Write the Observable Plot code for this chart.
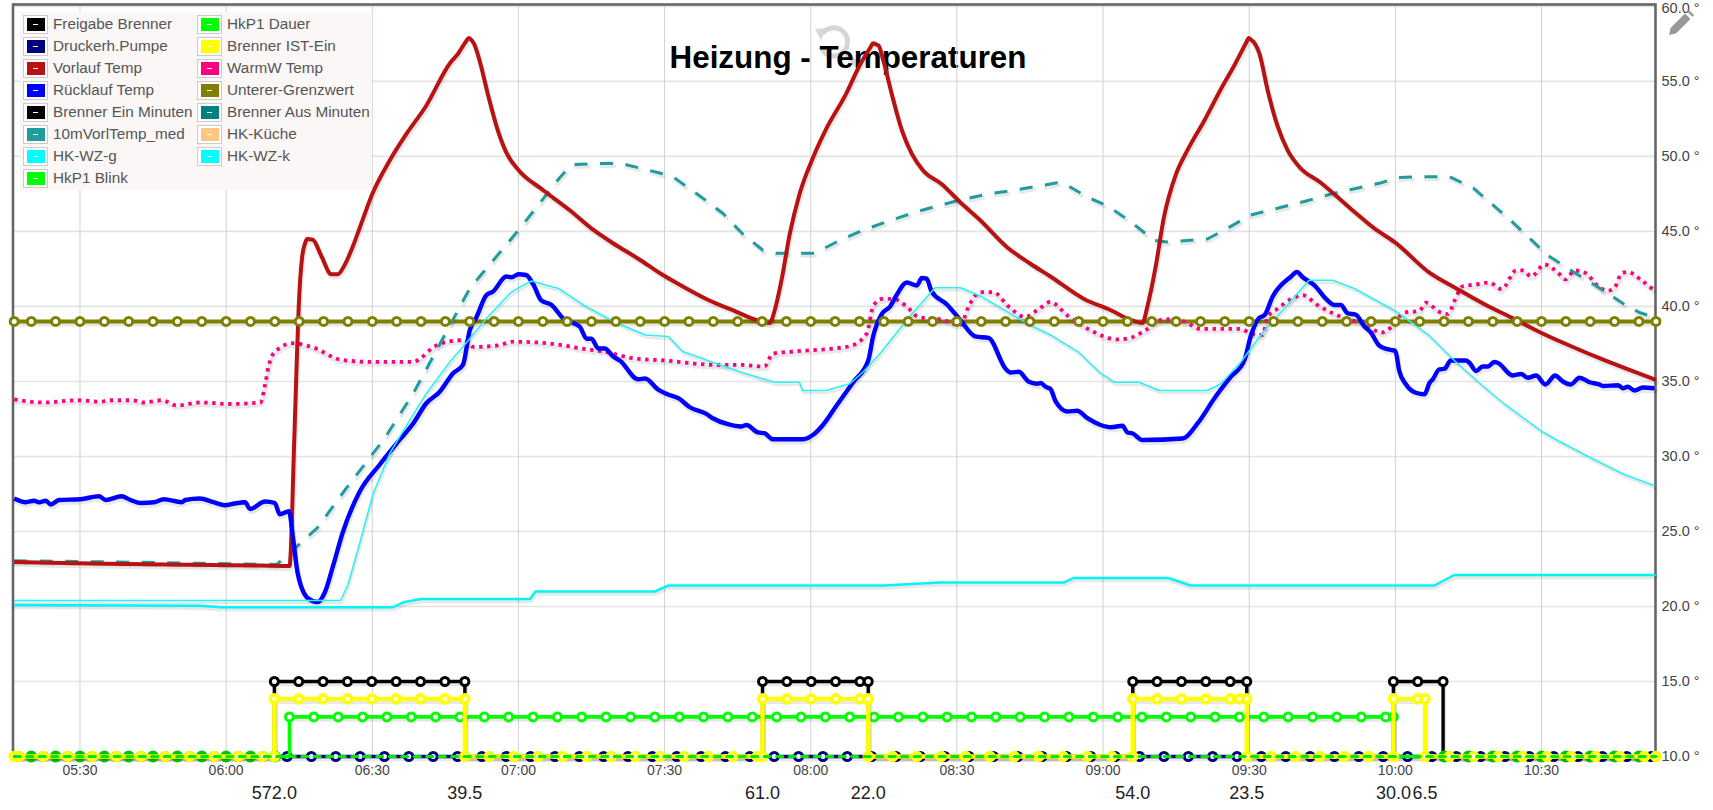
<!DOCTYPE html>
<html>
<head>
<meta charset="utf-8">
<script src="https://cdn.jsdelivr.net/npm/d3@7"></script>
<script src="https://cdn.jsdelivr.net/npm/@observablehq/plot@0.6"></script>
<style>
html,body{margin:0;padding:0;background:#fff;overflow:hidden}
#wrap{position:relative;width:1713px;height:810px;font-family:"Liberation Sans",Arial,sans-serif}
#title{position:absolute;left:0;top:38px;width:1696px;text-align:center;font-size:31.4px;font-weight:bold;color:#000;line-height:40px}
#chart{position:absolute;left:0;top:0}
#legend{position:absolute;left:20px;top:12px;width:352px;height:178px;background:#faf7f6}
.it{position:absolute;height:22px;display:flex;align-items:center;font-size:15.3px;color:#555;white-space:nowrap}
.sw{width:18px;height:13px;border:1px solid #ccc;padding:2px 2.5px;margin-right:5px;box-sizing:content-box;background:#fff;flex:none;position:relative}
.sw i{display:block;width:100%;height:100%;position:relative}
.sw i::after{content:"";position:absolute;left:6.5px;top:6px;width:5px;height:1px;background:#fff}
.icon{position:absolute}
</style>
</head>
<body>
<div id="wrap">
<svg class="icon" style="left:812px;top:22px" width="52" height="48" viewBox="0 0 52 48" fill="none">
  <path d="M10 12 A14 14 0 1 1 9 26" stroke="#d6d6d6" stroke-width="5"/>
  <path d="M3 7 L15 6 L9 18 Z" fill="#d6d6d6"/>
  <path d="M32 30 L46 44" stroke="#d6d6d6" stroke-width="6"/>
</svg>
<div id="title">Heizung - Temperaturen</div>
<div id="chart"></div>
<div id="legend"></div>
<svg class="icon" style="left:1667px;top:9px" width="28" height="28" viewBox="0 0 28 28">
  <path d="M2 26 L3.5 19 L18 4.5 L23.5 10 L9 24.5 Z" fill="#999"/>
  <path d="M20 2.5 L22 1 L27 6 L25.5 8 Z" fill="#999"/>
</svg>
</div>
<script>
// Time values are minutes since midnight; temperatures are degrees.
const xDomain = [316.25, 653.4];
const yDomain = [10, 60.13];
const timeTicks = [330, 360, 390, 420, 450, 480, 510, 540, 570, 600, 630];
const tempTicks = [10, 15, 20, 25, 30, 35, 40, 45, 50, 55];
const tempTop = [60];
const tempGrid = [10, 15, 20, 25, 30, 35, 40, 45, 50, 55, 60];

const vorlauf = [[316.5,22.96],[335.3,22.85],[367,22.73],[373,22.7],[374,31.3],[374.5,36.4],[374.9,40],[375.6,43.3],[376.3,44.3],[376.6,44.5],[377.8,44.45],[379.5,43.4],[381.6,42.15],[382.9,42.15],[384.3,42.75],[386,44],[387.7,45.5],[390,47.5],[393.6,49.75],[397,51.5],[401.1,53.4],[405.9,56.2],[407.6,56.85],[409.3,57.7],[409.8,57.9],[410.4,57.75],[410.9,57.5],[412.1,56.3],[413.8,54.05],[415.9,51.6],[417.6,50.2],[420,49.1],[425.1,47.75],[430.6,46.4],[435.4,45.1],[439.5,44.2],[445,43.1],[448.9,42.25],[452.3,41.6],[459.2,40.4],[464,39.75],[468.8,39.1],[471.6,38.9],[472.6,39.75],[474,41.75],[475.7,44.85],[477.7,47.5],[480.5,49.95],[483.2,51.85],[487.3,54.2],[490,56.05],[492.3,57.3],[492.8,57.55],[493.5,57.45],[493.9,57.4],[494.9,56.4],[496.6,54.2],[498.7,51.75],[500.7,50.2],[503.1,49.05],[506.9,48.15],[510.7,46.95],[514.8,45.75],[520.3,43.95],[525.1,42.85],[529.2,42],[536.1,40.5],[541.6,39.75],[545.7,39.1],[548.1,38.9],[549.1,40],[550.8,42.65],[552.5,45.95],[554.9,48.75],[557.3,50.4],[560.8,52.4],[564.2,54.5],[566.9,56.05],[569.4,57.6],[569.9,57.9],[570.5,57.75],[571,57.6],[572.1,56.85],[573.8,54.4],[575.8,52.05],[577.9,50.4],[580.3,49.3],[584.7,48.25],[590.9,46.5],[595.7,45.2],[600,44.25],[607,42.25],[612.8,41.15],[618.3,40.15],[624.5,39.15],[629.9,38.25],[636.8,37.25],[642.3,36.5],[647.8,35.8],[653.5,35.1]];

const ruecklauf = [[316.5,27.2],[318.9,26.95],[320.6,27.05],[321.6,26.95],[323,27.05],[324,26.8],[325.7,27.1],[330.1,27.15],[333.9,27.35],[335.3,27.1],[338.5,27.35],[340.4,27.1],[342.5,26.9],[345.2,26.95],[347.2,27.15],[350.9,26.95],[351.6,27.1],[354.6,27.2],[357.4,26.95],[359.8,26.75],[361.5,26.85],[363.9,26.95],[364.9,26.5],[368,27],[370,26.9],[371,26.15],[372.9,26.35],[373.7,24.65],[374.7,22.2],[376.8,20.55],[378.8,20.3],[380.2,20.9],[381.9,22.65],[383.9,24.9],[387.4,27.65],[391.5,29.45],[395.6,31.1],[398.4,32.2],[401.1,33.55],[403.8,34.3],[406.6,35.55],[408.6,36.1],[410,38.4],[411.4,39.3],[413.4,40.75],[414.8,41],[417.5,42],[418.6,41.95],[420,42.15],[421.6,42.1],[423,41.5],[424.7,40.4],[426.8,40.1],[429.2,39.2],[432.6,38.65],[434,37.85],[435,37.85],[436.4,37.2],[437.7,37.2],[439.5,36.65],[440.8,36.4],[444.6,35.15],[446,35.2],[448.7,34.45],[450.6,34.15],[453,33.85],[455.1,33.3],[458.5,32.85],[459.9,32.55],[463,32.15],[465.7,32],[466.8,32.1],[469.2,31.6],[470.5,31.55],[472.2,31.15],[478.4,31.15],[480.5,31.45],[482.5,32.1],[485.3,33.4],[488.7,34.95],[491.8,36.4],[492.8,38],[494.6,39.5],[496.3,40],[497.6,40.75],[499.7,41.6],[501.8,41.4],[502.8,41.9],[503.8,41.85],[504.8,41],[507.9,40.15],[510.7,39.1],[513.8,38],[516.5,37.9],[520,35.85],[521,35.6],[522.7,35.65],[524.7,35],[526.5,34.85],[527.2,34.9],[528.2,34.65],[529.2,34.5],[530.3,33.65],[532.7,33],[534.7,33.05],[536.8,32.55],[539.5,32.1],[541.6,31.95],[544,32.05],[545,31.6],[546,31.55],[548.1,31.1],[556.3,31.2],[559.4,32.2],[562.8,33.85],[566.2,35.3],[569,36.4],[570.3,38],[572.1,39.25],[573.1,39.4],[574.8,40.65],[578.6,42],[579.8,42.3],[581,41.95],[583.4,41.4],[586.1,40.4],[587.5,40.1],[588.8,40.1],[590.2,39.55],[591.9,39.45],[593.6,38.7],[595,38.25],[596.7,37.4],[599.1,37.1],[600,37.05],[600.8,35.7],[602.2,34.8],[604.2,34.25],[606,34.15],[607,34.9],[607.7,35.15],[609,35.8],[610.1,35.85],[611.4,36.4],[614.5,36.4],[615.2,36.25],[616.6,35.7],[617.9,36],[619,36],[620.3,36.3],[621,36.25],[624.1,35.4],[625.8,35.5],[627.2,35.25],[628.9,35.4],[630.8,34.8],[632.8,35.4],[634.4,35],[636,34.8],[637.8,35.25],[639.9,34.95],[641.9,34.8],[642.6,34.7],[645.7,34.75],[646.7,34.55],[647.7,34.65],[649.1,34.4],[650.8,34.6],[653.2,34.55]];

const warmW = [[316.5,33.8],[322.6,33.6],[329.5,33.75],[334.2,33.65],[335.9,33.75],[340.7,33.75],[343.1,33.6],[346.8,33.75],[349.9,33.4],[354.7,33.6],[360.8,33.5],[367,33.6],[368,34.8],[368.7,36],[369.8,36.9],[373.6,37.55],[378,37.25],[383.5,36.45],[390.3,36.3],[398.5,36.3],[399.9,36.55],[402.6,37.3],[405.4,37.65],[408.8,37.75],[410.8,37.3],[415.7,37.4],[419,37.65],[423.9,37.6],[429.3,37.4],[432.8,37.2],[437.4,37],[443.6,36.55],[450,36.4],[460.9,36.1],[466,36.1],[470.5,36],[472.2,36.85],[476.4,37],[484.6,37.2],[488,37.35],[491.5,38.2],[492.8,40],[494.6,40.5],[497,40.5],[499.7,40],[502.1,39.3],[507.2,39.1],[510.7,38.75],[512.4,40],[514.8,40.95],[517.5,40.95],[520.6,40],[524,39.3],[526.5,39.75],[529.2,40.3],[532.7,39.4],[537.5,38.4],[543,37.8],[546,37.95],[549.1,38.5],[552.5,39.15],[556.6,39],[560.1,38.5],[568.3,38.5],[570.3,38.2],[572.7,38.1],[573.8,39.3],[575.8,39.85],[578.6,40.5],[581,40.75],[584,40.1],[588.2,39.4],[590.9,39.1],[594.3,38.75],[597,38.25],[599.1,38.6],[601.8,39.6],[604.9,39.7],[606.3,40.25],[609,39.65],[610.8,39.5],[612.1,40.35],[613.8,41.35],[616.2,41.45],[619.3,41.6],[621.8,41.15],[624.8,42.4],[626.2,42.4],[627.9,42],[630.6,42.8],[633.4,42.25],[634.9,41.8],[636.8,42.4],[638.9,42.25],[642,41.25],[643.6,41.05],[645,41.25],[646.4,42.2],[647.7,42.3],[650.5,41.75],[653.2,41.05]];

const vorlMed = [[316.5,23.05],[330.1,23],[341,22.95],[370.4,22.8],[378.6,25.2],[384.7,27.9],[392.5,31.2],[398.4,34.2],[410,41.2],[420.3,45.2],[428.5,48.6],[430.9,49.45],[438.4,49.55],[441.5,49.5],[449,48.9],[451.7,48.65],[457.1,47.4],[462,46.2],[466,44.85],[470.2,43.75],[472.9,43.55],[480.8,43.55],[485.3,44.3],[490.8,45.1],[495.6,45.65],[501.1,46.25],[505.9,46.7],[510.7,47.1],[516.5,47.5],[521.7,47.75],[527.2,48.05],[530.6,48.25],[532,48.2],[536.8,47.3],[541.2,46.65],[545.7,45.65],[550.5,44.4],[553.2,44.3],[561.4,44.5],[565.5,45.2],[570.3,46.1],[575.8,46.55],[581.3,47],[586.8,47.5],[591.6,47.85],[597.1,48.25],[600.5,48.6],[604.6,48.65],[608,48.65],[611.1,48.65],[616,47.9],[623.8,45.7],[631.3,43.4],[636.8,42.25],[642.3,41.15],[647,40.15],[650.1,39.6],[652.5,39.35]];

const hkWzThin = [[316.5,20.4],[383.5,20.4],[385,21.45],[387.4,24.2],[390.2,27.55],[393.6,30.2],[395.6,31.3],[401.1,34.2],[405.9,36.3],[410,37.85],[413.4,39.2],[418.2,40.85],[420,41.25],[422.7,41.7],[428.2,41.2],[433.3,40.1],[439.5,39],[446,38.1],[450.8,38],[453.7,37],[460.6,36.2],[466.8,35.5],[472.6,34.95],[477.7,34.95],[478.3,34.4],[483.2,34.4],[488,34.85],[490.8,35.65],[494.2,36.85],[499.7,39.1],[505.5,41.25],[510.7,41.25],[514.8,40.7],[520.3,39.65],[525.1,38.75],[529.2,38.1],[535,36.95],[539.5,35.55],[542.3,34.95],[547.4,34.95],[551.5,34.4],[561.4,34.4],[564.2,34.85],[568.3,36.3],[573.1,38.4],[577.2,39.85],[582.3,41.75],[587.1,41.75],[591.6,41.2],[600,39.7],[607,38.05],[612.1,36.4],[617.6,34.8],[622.4,33.5],[629.9,31.7],[633.4,31.05],[640.2,29.9],[647,28.8],[653.2,28.05]];

const hkWzThick = [[316.5,20.1],[354.7,20.05],[358.8,19.95],[394.3,19.95],[396.6,20.3],[400,20.5],[422.4,20.5],[423.5,21],[448,21],[450.8,21.4],[495.1,21.4],[506.4,21.6],[532,21.6],[534,21.9],[553.4,21.9],[558,21.4],[608,21.4],[612.1,22.1],[653.4,22.1]];

const grenzwert = [[316.5,39],[653.5,39]];
const grenzwertDots = [316.5,320,325,330,335,340,345,350,355,360,365,370,375,380,385,390,395,400,405,410,415,420,425,430,435,440,445,450,455,460,465,470,475,480,485,490,495,500,505,510,515,520,525,530,535,540,545,550,555,560,565,570,575,580,585,590,595,600,605,610,615,620,625,630,635,640,645,650,653.5];

const pumpeLine = [[316.5,10],[653.5,10]];
const pumpeDots = [317.5,322.5,327.5,332.5,337.5,342.5,347.5,352.5,357.5,362.5,367.5,372.5,377.5,382.5,387.5,392.5,397.5,402.5,407.5,412.5,417.5,422.5,427.5,432.5,437.5,442.5,447.5,452.5,457.5,462.5,467.5,472.5,477.5,482.5,487.5,492.5,497.5,502.5,507.5,512.5,517.5,522.5,527.5,532.5,537.5,542.5,547.5,552.5,557.5,562.5,567.5,572.5,577.5,582.5,587.5,592.5,597.5,602.5,607.5,612.5,617.5,622.5,627.5,632.5,637.5,642.5,647.5,652.5];

const freigabeLine = [[316.5,10],[369.9,10],[369.9,15],[409,15],[409,10],[470.1,10],[470.1,15],[491.8,15],[491.8,10],[546.1,10],[546.1,15],[569.5,15],[569.5,10],[599.6,10],[599.6,15],[609.8,15],[609.8,10],[653.5,10]];
const freigabeDots = [369.9,374.9,379.9,384.9,389.9,394.9,399.9,404.9,409,470.1,475.1,480.1,485.1,490.1,491.8,546.1,551.1,556.1,561.1,566.1,569.5,599.6,604.6,609.8];

const dauer = [[316.5,10],[373,10],[373,12.64],[599.6,12.64],[599.6,10],[653.5,10]];
const dauerDots = [373,378,383,388,393,398,403,408,413,418,423,428,433,438,443,448,453,458,463,468,473,478,483,488,493,498,503,508,513,518,523,528,533,538,543,548,553,558,563,568,573,578,583,588,593,598,599.6];
const blinkDots = [320,325,330,335,340,345,350,355,360,365,370,610,615,620,625,630,635,640,645,650];

const istEinT = [316.5,317.5,322.5,327.5,332.5,337.5,342.5,347.5,352.5,357.5,362.5,367.5,369.9,369.9,374.9,379.9,384.9,389.9,394.9,399.9,404.9,409,409,414,419,424,429,434,439,444,449,454,459,464,469,470.1,470.1,475.1,480.1,485.1,490.1,491.8,491.8,496.8,501.8,506.8,511.8,516.8,521.8,526.8,531.8,536.8,541.8,546.1,546.1,551.1,556.1,561.1,566.1,568,569.5,569.5,574.5,579.5,584.5,589.5,594.5,599.6,599.6,604.6,606.1,606.1,611.1,616.1,621.1,626.1,631.1,636.1,641.1,646.1,651.1,653.5];
const istEinV = [10,10,10,10,10,10,10,10,10,10,10,10,10,13.84,13.84,13.84,13.84,13.84,13.84,13.84,13.84,13.84,10,10,10,10,10,10,10,10,10,10,10,10,10,10,13.84,13.84,13.84,13.84,13.84,13.84,10,10,10,10,10,10,10,10,10,10,10,10,13.84,13.84,13.84,13.84,13.84,13.84,13.84,10,10,10,10,10,10,10,13.84,13.84,13.84,10,10,10,10,10,10,10,10,10,10,10];

const durationT = [369.9, 409, 470.1, 491.8, 546.1, 569.5, 599.6, 606.1];
const durationL = ["572.0", "39.5", "61.0", "22.0", "54.0", "23.5", "30.0", "6.5"];

const legendLeft = [["Freigabe Brenner","#000"],["Druckerh.Pumpe","#000080"],["Vorlauf Temp","#b81212"],["Rücklauf Temp","#0000ff"],["Brenner Ein Minuten","#000"],["10mVorlTemp_med","#1f9c9e"],["HK-WZ-g","#00ffff"],["HkP1 Blink","#00ff00"]];
const legendRight = [["HkP1 Dauer","#00ff00"],["Brenner IST-Ein","#ffff00"],["WarmW Temp","#ff0080"],["Unterer-Grenzwert","#808000"],["Brenner Aus Minuten","#008080"],["HK-Küche","#ffc680"],["HK-WZ-k","#00ffff"]];

const pair = a => a.map(([t, v]) => ({t, v}));
const at = (list, v) => list.map(t => ({t, v}));
const hhmm = m => String(Math.floor(m / 60)).padStart(2, "0") + ":" + String(m % 60).padStart(2, "0");

// A line with the soft offset shadow the original draws beneath every series.
function shaded(data, o) {
  const w = o.strokeWidth, curve = o.curve || "linear";
  return [
    Plot.line(data, {x: "t", y: "v", curve, stroke: "#000", strokeOpacity: 0.09, strokeWidth: w + 1, dx: 1, dy: 2.5, strokeDasharray: o.strokeDasharray, strokeLinejoin: "round"}),
    Plot.line(data, {x: "t", y: "v", curve, stroke: o.stroke, strokeWidth: w, strokeDasharray: o.strokeDasharray, strokeLinejoin: "round", strokeLinecap: "butt"})
  ];
}
const dots = (data, stroke, fill = "#fff", extra = {}) =>
  Plot.dot(data, {x: "t", y: "v", r: 4, stroke, fill, strokeWidth: 3, ...extra});

const ist = istEinT.map((t, i) => ({t, v: istEinV[i]}));

const chart = Plot.plot({
  width: 1713, height: 810,
  marginLeft: 12.5, marginRight: 58, marginTop: 4, marginBottom: 54,
  style: {background: "transparent", fontFamily: "'Liberation Sans', Arial, sans-serif"},
  x: {domain: xDomain, axis: null},
  y: {domain: yDomain, axis: null},
  marks: [
    Plot.ruleY(tempGrid, {stroke: "#e4e4e4", strokeWidth: 1.7}),
    Plot.ruleX(timeTicks, {stroke: "#d2d2d2", strokeWidth: 1}),
    Plot.axisX({anchor: "bottom", ticks: timeTicks, tickFormat: hhmm, tickSize: 0, tickPadding: 9, fontSize: 14, fill: "#444", label: null}),
    Plot.axisY({anchor: "right", ticks: tempTicks, tickFormat: d => d.toFixed(1) + " °", tickSize: 0, tickPadding: 6, fontSize: 14.5, fill: "#444", label: null}),
    Plot.axisY({anchor: "right", ticks: tempTop, tickFormat: d => d.toFixed(1) + " °", tickSize: 0, tickPadding: 6, fontSize: 14.5, fill: "#444", label: null, dy: 2}),
    Plot.frame({stroke: "#666", strokeWidth: 2.6}),

    ...shaded(pair(grenzwert), {stroke: "#808000", strokeWidth: 4}),
    ...shaded(pair(warmW), {stroke: "#ff0080", strokeWidth: 3.8, strokeDasharray: "3.4,4.6", curve: "monotone-x"}),
    ...shaded(pair(vorlMed), {stroke: "#1f9c9e", strokeWidth: 3, strokeDasharray: "13,12.5"}),
    ...shaded(pair(vorlauf), {stroke: "#b81212", strokeWidth: 4, curve: "monotone-x"}),
    ...shaded(pair(ruecklauf), {stroke: "#0000ff", strokeWidth: 4.4, curve: "monotone-x"}),
    ...shaded(pair(hkWzThin), {stroke: "#22f4f4", strokeWidth: 1.5}),
    ...shaded(pair(hkWzThick), {stroke: "#00f6f6", strokeWidth: 2.5}),
    dots(at(grenzwertDots, 39), "#808000"),

    ...shaded(pair(freigabeLine), {stroke: "#000", strokeWidth: 3.4}),
    ...shaded(pair(pumpeLine), {stroke: "#000080", strokeWidth: 3.6}),
    dots(at(pumpeDots, 10), "#000080"),
    dots(at(freigabeDots, 15), "#000"),
    ...shaded(pair(dauer), {stroke: "#00ff00", strokeWidth: 3.6}),
    dots(at(dauerDots, 12.64), "#00ff00"),
    dots(at(blinkDots, 10), "#00cc00", "#0b9b0b", {r: 4.8, strokeWidth: 2.4}),
    ...shaded(ist, {stroke: "#ffff00", strokeWidth: 4.4}),
    dots(ist, "#ffff00", "#fff", {strokeWidth: 3.6}),
    Plot.line(pair(pumpeLine), {x: "t", y: "v", stroke: "#00e800", strokeWidth: 3.2, strokeDasharray: "6,6.5"}),

    Plot.text(durationT.map((t, i) => ({t, l: durationL[i]})), {x: "t", text: "l", frameAnchor: "bottom", dy: 37, fontSize: 18, fill: "#222", lineAnchor: "middle"})
  ]
});
document.getElementById("chart").appendChild(chart);

const lg = document.getElementById("legend");
function addItems(items, left) {
  items.forEach(([name, color], i) => {
    const d = document.createElement("div");
    d.className = "it";
    d.style.left = left + "px";
    d.style.top = (1 + i * 22) + "px";
    const s = document.createElement("span"); s.className = "sw";
    const c = document.createElement("i"); c.style.background = color; s.appendChild(c);
    d.appendChild(s);
    d.appendChild(document.createTextNode(name));
    lg.appendChild(d);
  });
}
addItems(legendLeft, 3);
addItems(legendRight, 177);
</script>
</body>
</html>
